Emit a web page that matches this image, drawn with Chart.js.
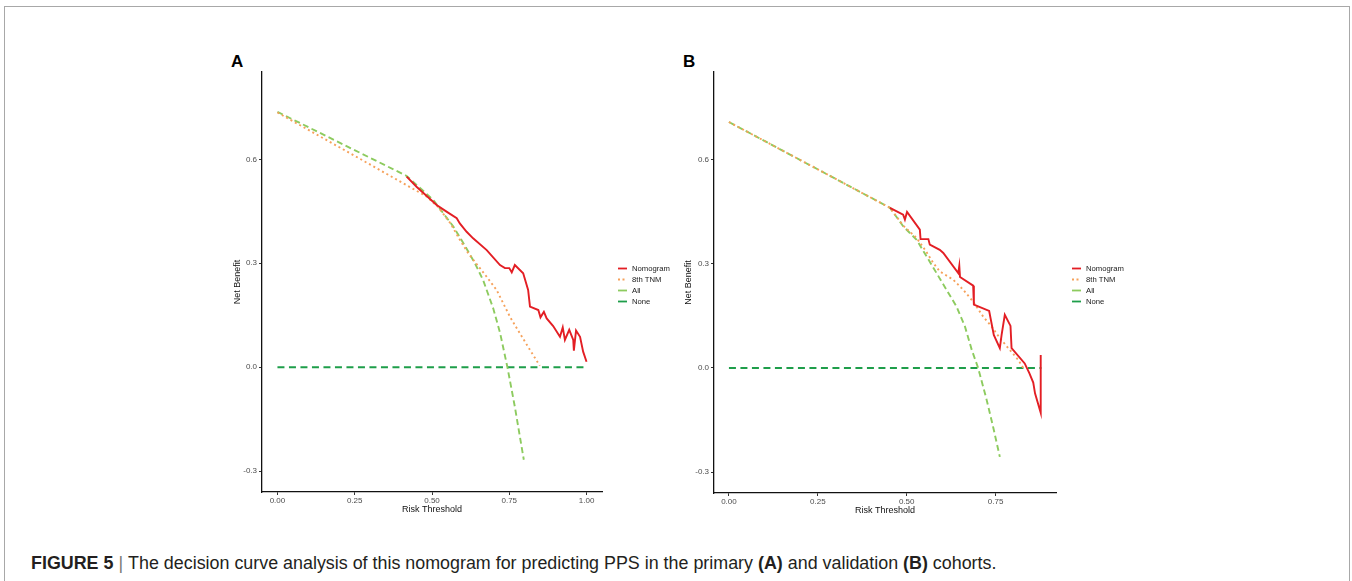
<!DOCTYPE html>
<html>
<head>
<meta charset="utf-8">
<script src="https://cdn.jsdelivr.net/npm/chart.js@4.4.0/dist/chart.umd.min.js"></script>
<style>
  body { margin: 0; background: #fff; width: 1352px; height: 581px; overflow: hidden; position: relative; font-family: 'Liberation Sans', Arial, sans-serif; }
  .frame { position: absolute; left: 4px; top: 6px; width: 1344px; height: 620px; border: 1px solid #a8a8a8; }
  .panel { position: absolute; top: 40px; width: 480px; height: 490px; }
  .tag { position: absolute; top: 52px; font-weight: bold; font-size: 17px; color: #000; }
  .caption { position: absolute; left: 31px; top: 552px; font-size: 18px; line-height: 22px; color: #231f20; white-space: nowrap; }
  .caption .bar { color: #777; padding: 0 5px; }
</style>
</head>
<body>
<div class="frame"></div>
<div class="tag" style="left:231px">A</div>
<div class="tag" style="left:683px">B</div>
<div class="panel" style="left:200px"><canvas id="chartA" width="480" height="490"></canvas></div>
<div class="panel" style="left:660px"><canvas id="chartB" width="480" height="490"></canvas></div>
<div class="caption" id="caption"><b>FIGURE 5</b><span class="bar">|</span>The decision curve analysis of this nomogram for predicting PPS in the primary <b>(A)</b> and validation <b>(B)</b> cohorts.</div>

<script>
const seriesNames = ['Nomogram', '8th TNM', 'All', 'None'];
const yTicks = [-0.3, 0, 0.3, 0.6];
const yTickLabels = ['-0.3', '0.0', '0.3', '0.6'];
const xTicksA = [0, 0.25, 0.5, 0.75, 1];
const xTickLabelsA = ['0.00', '0.25', '0.50', '0.75', '1.00'];
const xTicksB = [0, 0.25, 0.5, 0.75];
const xTickLabelsB = ['0.00', '0.25', '0.50', '0.75'];

// panel A - primary cohort
const aNomoX = [0.418, 0.450, 0.483, 0.515, 0.547, 0.580, 0.590, 0.612, 0.633, 0.677, 0.720, 0.736, 0.750, 0.758, 0.768, 0.795, 0.811, 0.817, 0.844, 0.851, 0.862, 0.871, 0.892, 0.914, 0.923, 0.930, 0.944, 0.957, 0.959, 0.966, 0.979, 0.989, 1.000];
const aNomoY = [0.550, 0.521, 0.494, 0.468, 0.449, 0.430, 0.415, 0.391, 0.372, 0.338, 0.295, 0.286, 0.286, 0.274, 0.295, 0.271, 0.223, 0.175, 0.165, 0.144, 0.160, 0.141, 0.119, 0.088, 0.115, 0.079, 0.108, 0.079, 0.048, 0.106, 0.088, 0.045, 0.016];
const aTnmX = [0, 0.246, 0.482, 0.520, 0.560, 0.590, 0.617, 0.677, 0.709, 0.752, 0.784, 0.817, 0.849];
const aTnmY = [0.735, 0.612, 0.493, 0.462, 0.415, 0.368, 0.329, 0.261, 0.223, 0.146, 0.098, 0.050, 0.004];
const aAllX = [0, 0.418, 0.504, 0.569, 0.607, 0.639, 0.666, 0.698, 0.720, 0.744, 0.768, 0.797];
const aAllY = [0.737, 0.552, 0.483, 0.406, 0.350, 0.300, 0.250, 0.170, 0.100, 0.000, -0.114, -0.267];
const aNoneX = [0, 1];
const aNoneY = [0, 0];

// panel B - validation cohort
const bNomoX = [0.453, 0.490, 0.495, 0.501, 0.537, 0.539, 0.561, 0.565, 0.593, 0.603, 0.645, 0.648, 0.650, 0.687, 0.689, 0.732, 0.745, 0.762, 0.767, 0.776, 0.792, 0.795, 0.832, 0.845, 0.856, 0.861, 0.877, 0.877];
const bNomoY = [0.461, 0.441, 0.427, 0.449, 0.398, 0.371, 0.371, 0.355, 0.340, 0.331, 0.273, 0.294, 0.262, 0.237, 0.182, 0.164, 0.095, 0.057, 0.095, 0.153, 0.121, 0.057, 0.013, -0.015, -0.042, -0.073, -0.129, 0.037];
const bTnmX = [0, 0.453, 0.490, 0.528, 0.555, 0.575, 0.593, 0.631, 0.659, 0.687, 0.715, 0.739, 0.762, 0.790, 0.814, 0.828];
const bTnmY = [0.708, 0.461, 0.410, 0.374, 0.335, 0.302, 0.278, 0.254, 0.225, 0.191, 0.148, 0.119, 0.086, 0.052, 0.023, 0.000];
const bAllX = [0, 0.453, 0.490, 0.528, 0.556, 0.584, 0.612, 0.640, 0.664, 0.683, 0.701, 0.725, 0.743, 0.762];
const bAllY = [0.708, 0.461, 0.408, 0.369, 0.321, 0.273, 0.225, 0.177, 0.119, 0.052, 0.000, -0.092, -0.169, -0.256];
const bNoneX = [0, 0.879];
const bNoneY = [0, 0];

const colors = ['#e31e24', '#f6a15a', '#8dcb5f', '#1e9e4a'];
const dashes = [[], [2, 3], [6, 3.5], [7, 4.5]];

function toPoints(xs, ys) {
    return xs.map((x, i) => ({ x: x, y: ys[i] }));
}

const legendPlugin = {
    id: 'dcaLegend',
    afterDraw(chart, args, opts) {
        const ctx = chart.ctx;
        ctx.save();
        ctx.font = '7.7px "Liberation Sans", Arial, sans-serif';
        ctx.textBaseline = 'middle';
        ctx.fillStyle = '#1a1a1a';
        seriesNames.forEach((name, i) => {
            const y = opts.y + i * 11;
            ctx.strokeStyle = colors[i];
            ctx.lineWidth = 1.8;
            ctx.setLineDash(i === 1 ? [2, 2.5] : []);
            ctx.beginPath();
            ctx.moveTo(opts.x, y);
            ctx.lineTo(opts.x + 9, y);
            ctx.stroke();
            ctx.setLineDash([]);
            ctx.fillText(name, opts.x + 14, y);
        });
        ctx.restore();
    }
};

function createDcaChart(canvasId, series, cfg) {
    const ctx = document.getElementById(canvasId).getContext('2d');
    const tickFont = { family: '"Liberation Sans", Arial, sans-serif', size: 8 };
    const titleFont = { family: '"Liberation Sans", Arial, sans-serif', size: 9 };

    return new Chart(ctx, {
        type: 'scatter',
        data: {
            datasets: series.map((s, i) => ({
                label: seriesNames[i],
                data: toPoints(s[0], s[1]),
                showLine: true,
                borderColor: colors[i],
                backgroundColor: colors[i],
                borderWidth: 1.9,
                borderDash: dashes[i],
                pointRadius: 0,
                tension: 0
            }))
        },
        options: {
            responsive: false,
            animation: false,
            layout: { padding: cfg.padding },
            plugins: {
                legend: { display: false },
                tooltip: { enabled: false },
                dcaLegend: cfg.legend
            },
            scales: {
                x: {
                    type: 'linear',
                    min: cfg.xMin,
                    max: cfg.xMax,
                    afterBuildTicks: s => { s.ticks = cfg.xTicks.map(v => ({ value: v })); },
                    afterFit: s => { s.height = 23; },
                    ticks: {
                        font: tickFont,
                        color: '#4d4d4d',
                        padding: 1,
                        maxRotation: 0,
                        callback: v => cfg.xTickLabels[cfg.xTicks.indexOf(v)]
                    },
                    grid: { drawOnChartArea: false, drawTicks: true, tickLength: 3, tickColor: '#333' },
                    border: { display: true, color: '#111', width: 1.3 },
                    title: { display: true, text: 'Risk Threshold', font: titleFont, color: '#111', padding: 0 }
                },
                y: {
                    min: -0.36,
                    max: 0.852,
                    afterBuildTicks: s => { s.ticks = yTicks.map(v => ({ value: v })); },
                    afterFit: s => { s.width = cfg.yWidth; },
                    ticks: {
                        font: tickFont,
                        color: '#4d4d4d',
                        padding: 2,
                        callback: v => yTickLabels[yTicks.indexOf(v)]
                    },
                    grid: { drawOnChartArea: false, drawTicks: true, tickLength: 3, tickColor: '#333' },
                    border: { display: true, color: '#111', width: 1.3 },
                    title: { display: true, text: 'Net Benefit', font: titleFont, color: '#111', padding: 0 }
                }
            }
        },
        plugins: [legendPlugin]
    });
}

createDcaChart('chartA',
    [[aNomoX, aNomoY], [aTnmX, aTnmY], [aAllX, aAllY], [aNoneX, aNoneY]],
    {
        xMin: -0.05, xMax: 1.05,
        xTicks: xTicksA, xTickLabels: xTickLabelsA,
        yWidth: 30,
        padding: { left: 32, top: 32, right: 78, bottom: 15 },
        legend: { x: 418, y: 228.5 }
    });

createDcaChart('chartB',
    [[bNomoX, bNomoY], [bTnmX, bTnmY], [bAllX, bAllY], [bNoneX, bNoneY]],
    {
        xMin: -0.042, xMax: 0.92,
        xTicks: xTicksB, xTickLabels: xTickLabelsB,
        yWidth: 31,
        padding: { left: 23, top: 32, right: 84, bottom: 14 },
        legend: { x: 412, y: 228.5 }
    });

// stretch the caption so it ends where the printed one does
const cap = document.getElementById('caption');
const capWidth = cap.getBoundingClientRect().width;
cap.style.fontSize = (18 * 966 / capWidth).toFixed(2) + 'px';
</script>
</body>
</html>
